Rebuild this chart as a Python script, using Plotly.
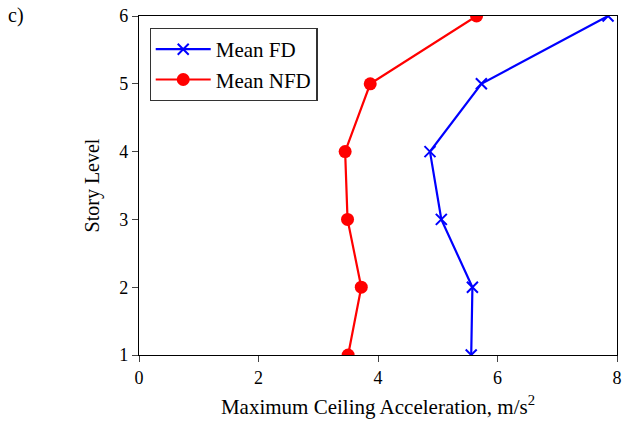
import plotly.graph_objects as go

levels = [1, 2, 3, 4, 5, 6]
mean_fd = [5.56, 5.58, 5.06, 4.87, 5.73, 7.85]
mean_nfd = [3.50, 3.72, 3.49, 3.45, 3.87, 5.65]
x_ticks = [0, 2, 4, 6, 8]
y_ticks = [1, 2, 3, 4, 5, 6]

FAM = "Liberation Serif, Times New Roman, serif"
font = dict(family=FAM, size=18, color="black")

fig = go.Figure()
fig.add_trace(go.Scatter(x=mean_fd, y=levels, mode="lines+markers", name="Mean FD",
                         line=dict(color="blue", width=2.2),
                         marker=dict(symbol="x-thin", size=11, line=dict(color="blue", width=2))))
fig.add_trace(go.Scatter(x=mean_nfd, y=levels, mode="lines+markers", name="Mean NFD",
                         line=dict(color="red", width=2.2),
                         marker=dict(symbol="circle", size=13, color="red")))

L, R, T, B = 139, 7, 16, 72
W, H = 624, 427
fig.update_layout(
    width=W, height=H,
    margin=dict(l=L, r=R, t=T, b=B, autoexpand=False),
    paper_bgcolor="white", plot_bgcolor="white",
    font=font,
    showlegend=True,
    legend=dict(x=0.022, y=0.965, xanchor="left", yanchor="top",
                bordercolor="#333", borderwidth=1.2, bgcolor="white",
                itemwidth=55,
                font=dict(family=FAM, size=21, color="black"), tracegroupgap=0),
    xaxis=dict(range=[0, 8], tickvals=x_ticks, ticks="outside", ticklen=6, tickwidth=1,
               tickfont=dict(family=FAM, size=18, color="black"), automargin=False,
               ticklabeloverflow="allow",
               showgrid=False, zeroline=False, showline=True, linecolor="black",
               linewidth=1.2, mirror=True,
               title=dict(text="Maximum Ceiling Acceleration, m/s<sup>2</sup>", standoff=12,
                          font=dict(family=FAM, size=21, color="black"))),
    yaxis=dict(range=[1, 6], tickvals=y_ticks, ticks="outside", ticklen=6, tickwidth=1,
               tickfont=dict(family=FAM, size=18, color="black"), automargin=False,
               ticklabeloverflow="allow",
               showgrid=False, zeroline=False, showline=True, linecolor="black",
               linewidth=1.2, mirror=True,
               title=dict(text="Story Level", standoff=14,
                          font=dict(family=FAM, size=20, color="black"))),
)
fig.add_annotation(text="c)", xref="paper", yref="paper",
                   x=-(L - 6) / (W - L - R), y=1 + (T - 2) / (H - T - B),
                   showarrow=False, xanchor="left", yanchor="top",
                   font=dict(family=FAM, size=20, color="black"))
fig.write_html("out.html", config={"displayModeBar": False},
               post_script="document.body.style.margin='0';document.body.style.padding='0';")
